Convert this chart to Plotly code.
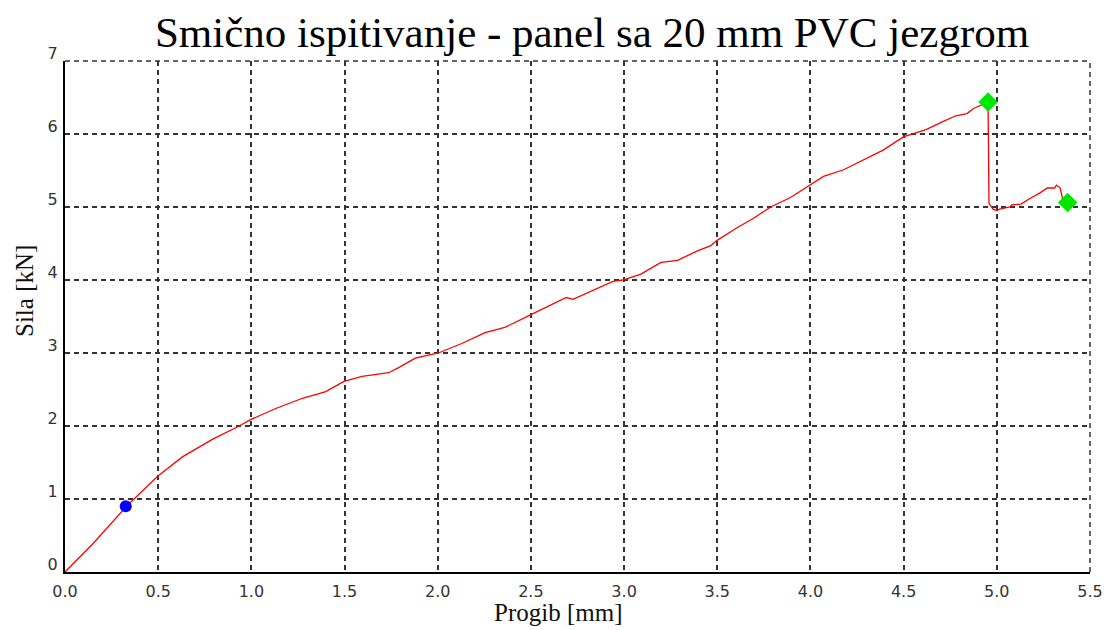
import plotly.graph_objects as go

# Progib [mm] / Sila [kN]
progib = [0, 0.151, 0.33, 0.499, 0.632, 0.793, 0.935, 0.998, 1.131, 1.274, 1.399, 1.497,
          1.594, 1.737, 1.79, 1.88, 2.004, 2.129, 2.254, 2.36, 2.503, 2.646, 2.69, 2.726,
          2.84, 2.94, 2.993, 3.09, 3.198, 3.287, 3.394, 3.465, 3.497, 3.608, 3.697, 3.786,
          3.893, 3.996, 4.07, 4.178, 4.285, 4.39, 4.499, 4.62, 4.71, 4.78, 4.84, 4.875,
          4.953, 4.955, 4.958, 4.98, 5.0, 5.015, 5.07, 5.08, 5.13, 5.18, 5.23, 5.27,
          5.31, 5.32, 5.34, 5.355, 5.38]
sila = [0, 0.39, 0.90, 1.315, 1.58, 1.82, 2.0, 2.09, 2.24, 2.38, 2.47, 2.61,
        2.68, 2.73, 2.80, 2.93, 3.0, 3.13, 3.28, 3.35, 3.53, 3.70, 3.76, 3.735,
        3.86, 3.98, 4.0, 4.08, 4.24, 4.27, 4.40, 4.47, 4.54, 4.72, 4.85, 5.00,
        5.13, 5.30, 5.42, 5.51, 5.65, 5.78, 5.96, 6.06, 6.17, 6.25, 6.28, 6.35,
        6.44, 5.74, 5.05, 4.97, 4.95, 4.97, 5.0, 5.03, 5.04, 5.12, 5.19, 5.26,
        5.26, 5.30, 5.26, 5.09, 5.06]

# marked points
plavi_x = [0.326]
plavi_y = [0.90]
zeleni_x = [4.953, 5.38]
zeleni_y = [6.44, 5.06]

x_ticks = [0, 0.5, 1.0, 1.5, 2.0, 2.5, 3.0, 3.5, 4.0, 4.5, 5.0, 5.5]
y_ticks = [0, 1, 2, 3, 4, 5, 6, 7]

GRID_COLOR = "#333333"
GRID_DASH = "5px,4px"

fig = go.Figure()
fig.add_trace(go.Scatter(x=progib, y=sila, mode="lines",
                         line=dict(color="#FF0000", width=1.3), hoverinfo="skip"))
fig.add_trace(go.Scatter(x=plavi_x, y=plavi_y, mode="markers",
                         marker=dict(color="#0000FF", size=12, symbol="circle")))
fig.add_trace(go.Scatter(x=zeleni_x, y=zeleni_y, mode="markers",
                         marker=dict(color="#00E600", size=15, symbol="diamond")))

grid = dict(showgrid=True, gridcolor=GRID_COLOR, gridwidth=1.5, griddash=GRID_DASH,
            showline=True, linecolor="black", linewidth=2, zeroline=False,
            ticks="", tickfont=dict(family="DejaVu Sans", size=16, color="#333333"))

fig.update_xaxes(range=[0, 5.5], tickvals=x_ticks, ticklabelstandoff=4,
                 ticktext=[f"{v:.1f}" for v in x_ticks], **grid)
fig.update_yaxes(range=[0, 7], tickvals=y_ticks, ticklabelshift=-8,
                 ticklabelstandoff=2, **grid)

# plotly skips grid lines on the plot edge, so draw the top/right dashed frame
edge = dict(color=GRID_COLOR, width=1.5, dash=GRID_DASH)
fig.add_shape(type="line", xref="paper", yref="paper", x0=0, x1=1, y0=1, y1=1, line=edge)
fig.add_shape(type="line", xref="paper", yref="paper", x0=1, x1=1, y0=0, y1=1, line=edge)

# page body adds 8px offset, so the figure is a bit smaller than the window
fig.update_layout(
    width=1107, height=622,
    paper_bgcolor="white", plot_bgcolor="white",
    showlegend=False,
    margin=dict(l=57, r=21, t=53, b=58),
    title=dict(text="Smično ispitivanje - panel sa 20 mm PVC jezgrom",
               x=0.5276, xanchor="center", y=0.961, yanchor="middle",
               font=dict(family="Liberation Serif", size=43, color="black")),
    annotations=[
        dict(text="Progib [mm]", xref="paper", yref="paper", x=0.481, y=-0.080,
             xanchor="center", yanchor="middle", showarrow=False,
             font=dict(family="Liberation Serif", size=25, color="#111111")),
        dict(text="Sila [kN]", xref="paper", yref="paper", x=-0.039, y=0.55,
             xanchor="center", yanchor="middle", showarrow=False, textangle=-90,
             font=dict(family="Liberation Serif", size=25, color="#111111")),
    ],
)

fig.write_html("out.html")
